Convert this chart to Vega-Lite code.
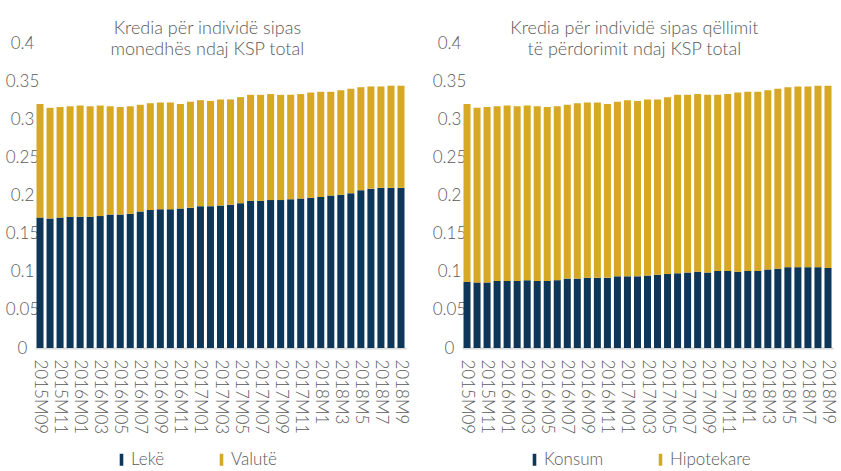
{
  "$schema": "https://vega.github.io/schema/vega-lite/v6.json",
  "padding": {"left": 5, "top": 20, "right": 3, "bottom": 0},
  "background": "white",
  "config": {
    "font": "Lato",
    "view": {"stroke": null},
    "axis": {"labelFont": "Lato", "labelFontSize": 17, "labelFontWeight": 300, "labelColor": "#595959", "ticks": false, "tickSize": 0, "grid": false, "title": null},
    "legend": {"labelFont": "Lato", "labelFontSize": 17, "labelFontWeight": 300, "labelColor": "#595959", "symbolType": "M-0.3,-1H0.3V1H-0.3Z", "symbolSize": 144, "symbolStrokeWidth": 0, "labelOffset": 1, "columnPadding": 48, "direction": "horizontal", "title": null},
    "title": {"font": "Lato", "fontSize": 18, "fontWeight": 300, "color": "#595959", "lineHeight": 21, "frame": "bounds", "anchor": "middle", "offset": -25}
  },
  "datasets": {
    "currency": [
      {"period": "2015M09", "series": "Lekë", "value": 0.171}, {"period": "2015M09", "series": "Valutë", "value": 0.149},
      {"period": "2015M10", "series": "Lekë", "value": 0.170}, {"period": "2015M10", "series": "Valutë", "value": 0.145},
      {"period": "2015M11", "series": "Lekë", "value": 0.171}, {"period": "2015M11", "series": "Valutë", "value": 0.145},
      {"period": "2015M12", "series": "Lekë", "value": 0.172}, {"period": "2015M12", "series": "Valutë", "value": 0.145},
      {"period": "2016M01", "series": "Lekë", "value": 0.172}, {"period": "2016M01", "series": "Valutë", "value": 0.146},
      {"period": "2016M02", "series": "Lekë", "value": 0.172}, {"period": "2016M02", "series": "Valutë", "value": 0.145},
      {"period": "2016M03", "series": "Lekë", "value": 0.173}, {"period": "2016M03", "series": "Valutë", "value": 0.145},
      {"period": "2016M04", "series": "Lekë", "value": 0.175}, {"period": "2016M04", "series": "Valutë", "value": 0.142},
      {"period": "2016M05", "series": "Lekë", "value": 0.175}, {"period": "2016M05", "series": "Valutë", "value": 0.141},
      {"period": "2016M06", "series": "Lekë", "value": 0.176}, {"period": "2016M06", "series": "Valutë", "value": 0.141},
      {"period": "2016M07", "series": "Lekë", "value": 0.179}, {"period": "2016M07", "series": "Valutë", "value": 0.140},
      {"period": "2016M08", "series": "Lekë", "value": 0.181}, {"period": "2016M08", "series": "Valutë", "value": 0.140},
      {"period": "2016M09", "series": "Lekë", "value": 0.182}, {"period": "2016M09", "series": "Valutë", "value": 0.140},
      {"period": "2016M10", "series": "Lekë", "value": 0.182}, {"period": "2016M10", "series": "Valutë", "value": 0.140},
      {"period": "2016M11", "series": "Lekë", "value": 0.183}, {"period": "2016M11", "series": "Valutë", "value": 0.137},
      {"period": "2016M12", "series": "Lekë", "value": 0.184}, {"period": "2016M12", "series": "Valutë", "value": 0.139},
      {"period": "2017M01", "series": "Lekë", "value": 0.186}, {"period": "2017M01", "series": "Valutë", "value": 0.139},
      {"period": "2017M02", "series": "Lekë", "value": 0.186}, {"period": "2017M02", "series": "Valutë", "value": 0.138},
      {"period": "2017M03", "series": "Lekë", "value": 0.187}, {"period": "2017M03", "series": "Valutë", "value": 0.139},
      {"period": "2017M04", "series": "Lekë", "value": 0.188}, {"period": "2017M04", "series": "Valutë", "value": 0.138},
      {"period": "2017M05", "series": "Lekë", "value": 0.190}, {"period": "2017M05", "series": "Valutë", "value": 0.139},
      {"period": "2017M06", "series": "Lekë", "value": 0.193}, {"period": "2017M06", "series": "Valutë", "value": 0.139},
      {"period": "2017M07", "series": "Lekë", "value": 0.193}, {"period": "2017M07", "series": "Valutë", "value": 0.139},
      {"period": "2017M08", "series": "Lekë", "value": 0.194}, {"period": "2017M08", "series": "Valutë", "value": 0.139},
      {"period": "2017M09", "series": "Lekë", "value": 0.194}, {"period": "2017M09", "series": "Valutë", "value": 0.138},
      {"period": "2017M10", "series": "Lekë", "value": 0.195}, {"period": "2017M10", "series": "Valutë", "value": 0.137},
      {"period": "2017M11", "series": "Lekë", "value": 0.196}, {"period": "2017M11", "series": "Valutë", "value": 0.137},
      {"period": "2017M12", "series": "Lekë", "value": 0.197}, {"period": "2017M12", "series": "Valutë", "value": 0.138},
      {"period": "2018M1", "series": "Lekë", "value": 0.198}, {"period": "2018M1", "series": "Valutë", "value": 0.138},
      {"period": "2018M2", "series": "Lekë", "value": 0.200}, {"period": "2018M2", "series": "Valutë", "value": 0.136},
      {"period": "2018M3", "series": "Lekë", "value": 0.201}, {"period": "2018M3", "series": "Valutë", "value": 0.137},
      {"period": "2018M4", "series": "Lekë", "value": 0.203}, {"period": "2018M4", "series": "Valutë", "value": 0.137},
      {"period": "2018M5", "series": "Lekë", "value": 0.207}, {"period": "2018M5", "series": "Valutë", "value": 0.135},
      {"period": "2018M6", "series": "Lekë", "value": 0.209}, {"period": "2018M6", "series": "Valutë", "value": 0.134},
      {"period": "2018M7", "series": "Lekë", "value": 0.210}, {"period": "2018M7", "series": "Valutë", "value": 0.133},
      {"period": "2018M8", "series": "Lekë", "value": 0.210}, {"period": "2018M8", "series": "Valutë", "value": 0.134},
      {"period": "2018M9", "series": "Lekë", "value": 0.210}, {"period": "2018M9", "series": "Valutë", "value": 0.134}
    ],
    "purpose": [
      {"period": "2015M09", "series": "Konsum", "value": 0.087}, {"period": "2015M09", "series": "Hipotekare", "value": 0.233},
      {"period": "2015M10", "series": "Konsum", "value": 0.086}, {"period": "2015M10", "series": "Hipotekare", "value": 0.229},
      {"period": "2015M11", "series": "Konsum", "value": 0.086}, {"period": "2015M11", "series": "Hipotekare", "value": 0.230},
      {"period": "2015M12", "series": "Konsum", "value": 0.088}, {"period": "2015M12", "series": "Hipotekare", "value": 0.229},
      {"period": "2016M01", "series": "Konsum", "value": 0.088}, {"period": "2016M01", "series": "Hipotekare", "value": 0.230},
      {"period": "2016M02", "series": "Konsum", "value": 0.088}, {"period": "2016M02", "series": "Hipotekare", "value": 0.229},
      {"period": "2016M03", "series": "Konsum", "value": 0.089}, {"period": "2016M03", "series": "Hipotekare", "value": 0.229},
      {"period": "2016M04", "series": "Konsum", "value": 0.088}, {"period": "2016M04", "series": "Hipotekare", "value": 0.229},
      {"period": "2016M05", "series": "Konsum", "value": 0.088}, {"period": "2016M05", "series": "Hipotekare", "value": 0.228},
      {"period": "2016M06", "series": "Konsum", "value": 0.089}, {"period": "2016M06", "series": "Hipotekare", "value": 0.228},
      {"period": "2016M07", "series": "Konsum", "value": 0.091}, {"period": "2016M07", "series": "Hipotekare", "value": 0.228},
      {"period": "2016M08", "series": "Konsum", "value": 0.091}, {"period": "2016M08", "series": "Hipotekare", "value": 0.230},
      {"period": "2016M09", "series": "Konsum", "value": 0.092}, {"period": "2016M09", "series": "Hipotekare", "value": 0.230},
      {"period": "2016M10", "series": "Konsum", "value": 0.092}, {"period": "2016M10", "series": "Hipotekare", "value": 0.230},
      {"period": "2016M11", "series": "Konsum", "value": 0.092}, {"period": "2016M11", "series": "Hipotekare", "value": 0.228},
      {"period": "2016M12", "series": "Konsum", "value": 0.094}, {"period": "2016M12", "series": "Hipotekare", "value": 0.229},
      {"period": "2017M01", "series": "Konsum", "value": 0.094}, {"period": "2017M01", "series": "Hipotekare", "value": 0.231},
      {"period": "2017M02", "series": "Konsum", "value": 0.094}, {"period": "2017M02", "series": "Hipotekare", "value": 0.230},
      {"period": "2017M03", "series": "Konsum", "value": 0.095}, {"period": "2017M03", "series": "Hipotekare", "value": 0.231},
      {"period": "2017M04", "series": "Konsum", "value": 0.096}, {"period": "2017M04", "series": "Hipotekare", "value": 0.230},
      {"period": "2017M05", "series": "Konsum", "value": 0.097}, {"period": "2017M05", "series": "Hipotekare", "value": 0.232},
      {"period": "2017M06", "series": "Konsum", "value": 0.098}, {"period": "2017M06", "series": "Hipotekare", "value": 0.234},
      {"period": "2017M07", "series": "Konsum", "value": 0.099}, {"period": "2017M07", "series": "Hipotekare", "value": 0.233},
      {"period": "2017M08", "series": "Konsum", "value": 0.100}, {"period": "2017M08", "series": "Hipotekare", "value": 0.233},
      {"period": "2017M09", "series": "Konsum", "value": 0.099}, {"period": "2017M09", "series": "Hipotekare", "value": 0.233},
      {"period": "2017M10", "series": "Konsum", "value": 0.101}, {"period": "2017M10", "series": "Hipotekare", "value": 0.231},
      {"period": "2017M11", "series": "Konsum", "value": 0.101}, {"period": "2017M11", "series": "Hipotekare", "value": 0.232},
      {"period": "2017M12", "series": "Konsum", "value": 0.100}, {"period": "2017M12", "series": "Hipotekare", "value": 0.235},
      {"period": "2018M1", "series": "Konsum", "value": 0.101}, {"period": "2018M1", "series": "Hipotekare", "value": 0.235},
      {"period": "2018M2", "series": "Konsum", "value": 0.101}, {"period": "2018M2", "series": "Hipotekare", "value": 0.235},
      {"period": "2018M3", "series": "Konsum", "value": 0.103}, {"period": "2018M3", "series": "Hipotekare", "value": 0.235},
      {"period": "2018M4", "series": "Konsum", "value": 0.104}, {"period": "2018M4", "series": "Hipotekare", "value": 0.236},
      {"period": "2018M5", "series": "Konsum", "value": 0.106}, {"period": "2018M5", "series": "Hipotekare", "value": 0.236},
      {"period": "2018M6", "series": "Konsum", "value": 0.106}, {"period": "2018M6", "series": "Hipotekare", "value": 0.237},
      {"period": "2018M7", "series": "Konsum", "value": 0.106}, {"period": "2018M7", "series": "Hipotekare", "value": 0.237},
      {"period": "2018M8", "series": "Konsum", "value": 0.106}, {"period": "2018M8", "series": "Hipotekare", "value": 0.238},
      {"period": "2018M9", "series": "Konsum", "value": 0.105}, {"period": "2018M9", "series": "Hipotekare", "value": 0.239}
    ]
  },
  "spacing": 22,
  "resolve": {"scale": {"color": "independent"}, "legend": {"color": "independent"}},
  "hconcat": [
    {
      "width": 371,
      "height": 305,
      "title": {"text": ["Kredia për individë sipas", "monedhës ndaj KSP total"]},
      "data": {"name": "currency"},
      "mark": {"type": "bar"},
      "encoding": {
        "x": {"field": "period", "type": "ordinal", "sort": null,
          "scale": {"paddingInner": 0.3, "paddingOuter": 0.15},
          "axis": {"values": ["2015M09","2015M11","2016M01","2016M03","2016M05","2016M07","2016M09","2016M11","2017M01","2017M03","2017M05","2017M07","2017M09","2017M11","2018M1","2018M3","2018M5","2018M7","2018M9"],
            "labelAngle": 90, "labelOverlap": false, "domainColor": "#d9d9d9", "domainWidth": 2, "labelPadding": 11}},
        "y": {"field": "value", "type": "quantitative", "stack": "zero",
          "scale": {"domain": [0, 0.4], "nice": false},
          "axis": {"values": [0, 0.05, 0.1, 0.15, 0.2, 0.25, 0.3, 0.35, 0.4], "format": "~g", "domain": false, "labelAlign": "center", "labelPadding": 13, "labelBaseline": "middle"}},
        "color": {"field": "series", "type": "nominal",
          "scale": {"domain": ["Lekë", "Valutë"], "range": ["#0E3658", "#D7A823"]},
          "legend": {"orient": "none", "legendX": 78, "legendY": 408}},
        "order": {"field": "series", "sort": "ascending"}
      }
    },
    {
      "width": 371,
      "height": 305,
      "title": {"text": ["Kredia për individë sipas qëllimit", "të përdorimit ndaj KSP total"]},
      "data": {"name": "purpose"},
      "mark": {"type": "bar"},
      "encoding": {
        "x": {"field": "period", "type": "ordinal", "sort": null,
          "scale": {"paddingInner": 0.3, "paddingOuter": 0.15},
          "axis": {"values": ["2015M09","2015M11","2016M01","2016M03","2016M05","2016M07","2016M09","2016M11","2017M01","2017M03","2017M05","2017M07","2017M09","2017M11","2018M1","2018M3","2018M5","2018M7","2018M9"],
            "labelAngle": 90, "labelOverlap": false, "domainColor": "#d9d9d9", "domainWidth": 2, "labelPadding": 11}},
        "y": {"field": "value", "type": "quantitative", "stack": "zero",
          "scale": {"domain": [0, 0.4], "nice": false},
          "axis": {"values": [0, 0.05, 0.1, 0.15, 0.2, 0.25, 0.3, 0.35, 0.4], "format": "~g", "domain": false, "labelAlign": "center", "labelPadding": 13, "labelBaseline": "middle"}},
        "color": {"field": "series", "type": "nominal",
          "scale": {"domain": ["Konsum", "Hipotekare"], "range": ["#0E3658", "#D7A823"]},
          "legend": {"orient": "none", "legendX": 64, "legendY": 408}},
        "order": {"field": "series", "sort": "descending"}
      }
    }
  ]
}
